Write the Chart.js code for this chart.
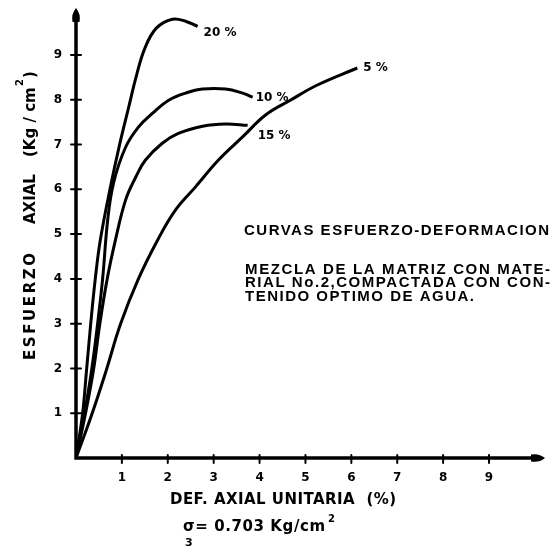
<!DOCTYPE html>
<html>
<head>
<meta charset="utf-8">
<script src="https://cdn.jsdelivr.net/npm/chart.js@4.4.1/dist/chart.umd.min.js"></script>
<style>
  html, body { margin: 0; padding: 0; background: #ffffff; }
  #wrap { width: 553px; height: 547px; position: relative; }
</style>
</head>
<body>
<div id="wrap"><canvas id="chart" width="553" height="547"></canvas></div>
<script>
// Tick values of both axes
const strainTicks = [1, 2, 3, 4, 5, 6, 7, 8, 9];
const stressTicks = [1, 2, 3, 4, 5, 6, 7, 8, 9];

// Curve names (percentage of material in the mix)
const curveNames = ['20 %', '10 %', '15 %', '5 %'];

// Unit axial strain (%) and axial stress (Kg/cm2) for each curve
const strain20 = [0, 0.14, 0.23, 0.32, 0.42, 0.53, 0.75, 0.95, 1.14, 1.32, 1.50, 1.75, 2.10, 2.40, 2.65];
const stress20 = [0, 0.96, 1.96, 2.99, 4.00, 4.87, 6.05, 7.00, 7.80, 8.55, 9.15, 9.60, 9.80, 9.75, 9.64];

const strain10 = [0, 0.18, 0.34, 0.47, 0.58, 0.69, 0.82, 1.08, 1.36, 1.67, 2.02, 2.39, 2.76, 3.26, 3.63, 3.85];
const stress10 = [0, 0.96, 1.96, 2.99, 4.00, 5.31, 6.15, 6.94, 7.39, 7.70, 7.99, 8.15, 8.24, 8.24, 8.15, 8.06];

const strain15 = [0, 0.20, 0.38, 0.52, 0.68, 0.86, 1.08, 1.30, 1.51, 1.88, 2.23, 2.76, 3.26, 3.74];
const stress15 = [0, 0.96, 1.96, 3.00, 4.00, 4.87, 5.76, 6.27, 6.65, 7.03, 7.25, 7.41, 7.46, 7.43];

const strain5 = [0, 0.34, 0.66, 0.97, 1.36, 1.78, 2.17, 2.60, 3.10, 3.63, 4.13, 4.67, 5.26, 6.13];
const stress5 = [0, 0.96, 1.96, 2.99, 4.00, 4.87, 5.54, 6.05, 6.65, 7.17, 7.66, 7.99, 8.33, 8.71];

const curves = [
  { name: curveNames[0], xs: strain20, ys: stress20, dx: 6, dy: 7 },
  { name: curveNames[1], xs: strain10, ys: stress10, dx: 3, dy: 1 },
  { name: curveNames[2], xs: strain15, ys: stress15, dx: 10, dy: 11 },
  { name: curveNames[3], xs: strain5, ys: stress5, dx: 6, dy: 0 }
];

const INK = '#000000';
const FONT = '"DejaVu Sans", "Liberation Sans", sans-serif';
const NARROW = '"Liberation Sans", Arial, sans-serif';

function pairs(xs, ys) { return xs.map((x, i) => ({ x: x, y: ys[i] })); }

// Draw text stretched to a given width through letter spacing
function spacedText(ctx, text, x, y, width) {
  ctx.letterSpacing = '0px';
  const w = ctx.measureText(text).width;
  const n = Array.from(text).length;
  const sp = n > 1 ? Math.max(0, (width - w) / (n - 1)) : 0;
  ctx.letterSpacing = sp.toFixed(2) + 'px';
  ctx.fillText(text, x, y);
  ctx.letterSpacing = '0px';
}

const decorations = {
  id: 'decorations',
  afterDraw(chart) {
    const ctx = chart.ctx;
    const xs = chart.scales.x, ys = chart.scales.y;
    const x0 = xs.getPixelForValue(0), y0 = ys.getPixelForValue(0);
    const xEnd = chart.chartArea.right, yEnd = chart.chartArea.top;
    ctx.save();
    ctx.strokeStyle = INK; ctx.fillStyle = INK;
    ctx.lineCap = 'round';

    // axes
    ctx.lineWidth = 3.5;
    ctx.beginPath();
    ctx.moveTo(x0, yEnd + 10); ctx.lineTo(x0, y0); ctx.lineTo(xEnd - 10, y0);
    ctx.stroke();
    // arrow heads
    ctx.beginPath();
    ctx.moveTo(x0, yEnd);
    ctx.quadraticCurveTo(x0 + 5, yEnd + 6, x0 + 3.5, yEnd + 14);
    ctx.lineTo(x0 - 3.5, yEnd + 14);
    ctx.quadraticCurveTo(x0 - 5, yEnd + 6, x0, yEnd);
    ctx.fill();
    ctx.beginPath();
    ctx.moveTo(xEnd, y0);
    ctx.quadraticCurveTo(xEnd - 6, y0 + 5, xEnd - 14, y0 + 3.5);
    ctx.lineTo(xEnd - 14, y0 - 3.5);
    ctx.quadraticCurveTo(xEnd - 6, y0 - 5, xEnd, y0);
    ctx.fill();

    // tick marks
    ctx.lineWidth = 2;
    strainTicks.forEach(v => {
      const p = xs.getPixelForValue(v);
      ctx.beginPath(); ctx.moveTo(p, y0 - 3); ctx.lineTo(p, y0 + 5); ctx.stroke();
    });
    stressTicks.forEach(v => {
      const p = ys.getPixelForValue(v);
      ctx.beginPath(); ctx.moveTo(x0 - 5, p); ctx.lineTo(x0 + 5, p); ctx.stroke();
    });

    // curve labels at the end of each curve
    ctx.font = 'bold 12px ' + FONT;
    ctx.textBaseline = 'middle';
    ctx.textAlign = 'left';
    curves.forEach(c => {
      const n = c.xs.length - 1;
      const px = xs.getPixelForValue(c.xs[n]);
      const py = ys.getPixelForValue(c.ys[n]);
      ctx.fillText(c.name, px + c.dx, py + c.dy);
    });

    // y axis title, written bottom to top
    ctx.save();
    ctx.translate(31, 0);
    ctx.rotate(-Math.PI / 2);
    ctx.font = 'bold 15px ' + FONT;
    ctx.textBaseline = 'middle';
    spacedText(ctx, 'ESFUERZO', -360, 0, 107);
    spacedText(ctx, 'AXIAL', -224, 0, 47);
    spacedText(ctx, '(Kg / cm', -157, 0, 68);
    ctx.fillText(')', -78, 0);
    ctx.font = 'bold 10px ' + FONT;
    ctx.fillText('2', -86, -11);
    ctx.restore();

    // x axis title and confining pressure
    ctx.font = 'bold 15px ' + FONT;
    ctx.textBaseline = 'middle';
    spacedText(ctx, 'DEF. AXIAL UNITARIA  (%)', 170, 500, 226);
    spacedText(ctx, 'σ= 0.703 Kg/cm', 183, 527, 142);
    ctx.font = 'bold 10px ' + FONT;
    ctx.fillText('2', 328, 519);
    ctx.font = 'bold 11px ' + FONT;
    ctx.fillText('3', 185, 543);

    // description
    ctx.font = 'bold 15px ' + NARROW;
    spacedText(ctx, 'CURVAS ESFUERZO-DEFORMACION', 244, 231, 305);
    spacedText(ctx, 'MEZCLA DE LA MATRIZ CON MATE-', 245, 270, 305);
    spacedText(ctx, 'RIAL No.2,COMPACTADA CON CON-', 245, 283, 305);
    spacedText(ctx, 'TENIDO OPTIMO DE AGUA.', 245, 297, 229);
    ctx.restore();
  }
};

new Chart(document.getElementById('chart'), {
  type: 'scatter',
  data: {
    datasets: curves.map(c => ({
      label: c.name,
      data: pairs(c.xs, c.ys),
      showLine: true,
      borderColor: INK,
      borderWidth: 3,
      pointRadius: 0,
      tension: 0.4,
      fill: false
    }))
  },
  options: {
    responsive: false,
    devicePixelRatio: 1,
    animation: false,
    layout: { padding: { top: 8, right: 8, left: 0, bottom: 0 } },
    plugins: { legend: { display: false }, tooltip: { enabled: false } },
    scales: {
      x: {
        type: 'linear', min: 0, max: 10.22,
        grid: { display: false, drawTicks: false },
        border: { display: false },
        afterBuildTicks: s => { s.ticks = strainTicks.map(v => ({ value: v })); },
        afterFit: s => { s.height = 89; s.paddingLeft = 0; s.paddingRight = 0; },
        ticks: { color: INK, padding: 13, font: { family: FONT, size: 12, weight: 'bold' }, callback: v => String(v) }
      },
      y: {
        type: 'linear', min: 0, max: 10.05,
        grid: { display: false, drawTicks: false },
        border: { display: false },
        afterBuildTicks: s => { s.ticks = stressTicks.map(v => ({ value: v })); },
        afterFit: s => { s.width = 76; s.paddingTop = 0; s.paddingBottom = 0; },
        ticks: { color: INK, padding: 14, font: { family: FONT, size: 12, weight: 'bold' }, callback: v => String(v) }
      }
    }
  },
  plugins: [decorations]
});
</script>
</body>
</html>
